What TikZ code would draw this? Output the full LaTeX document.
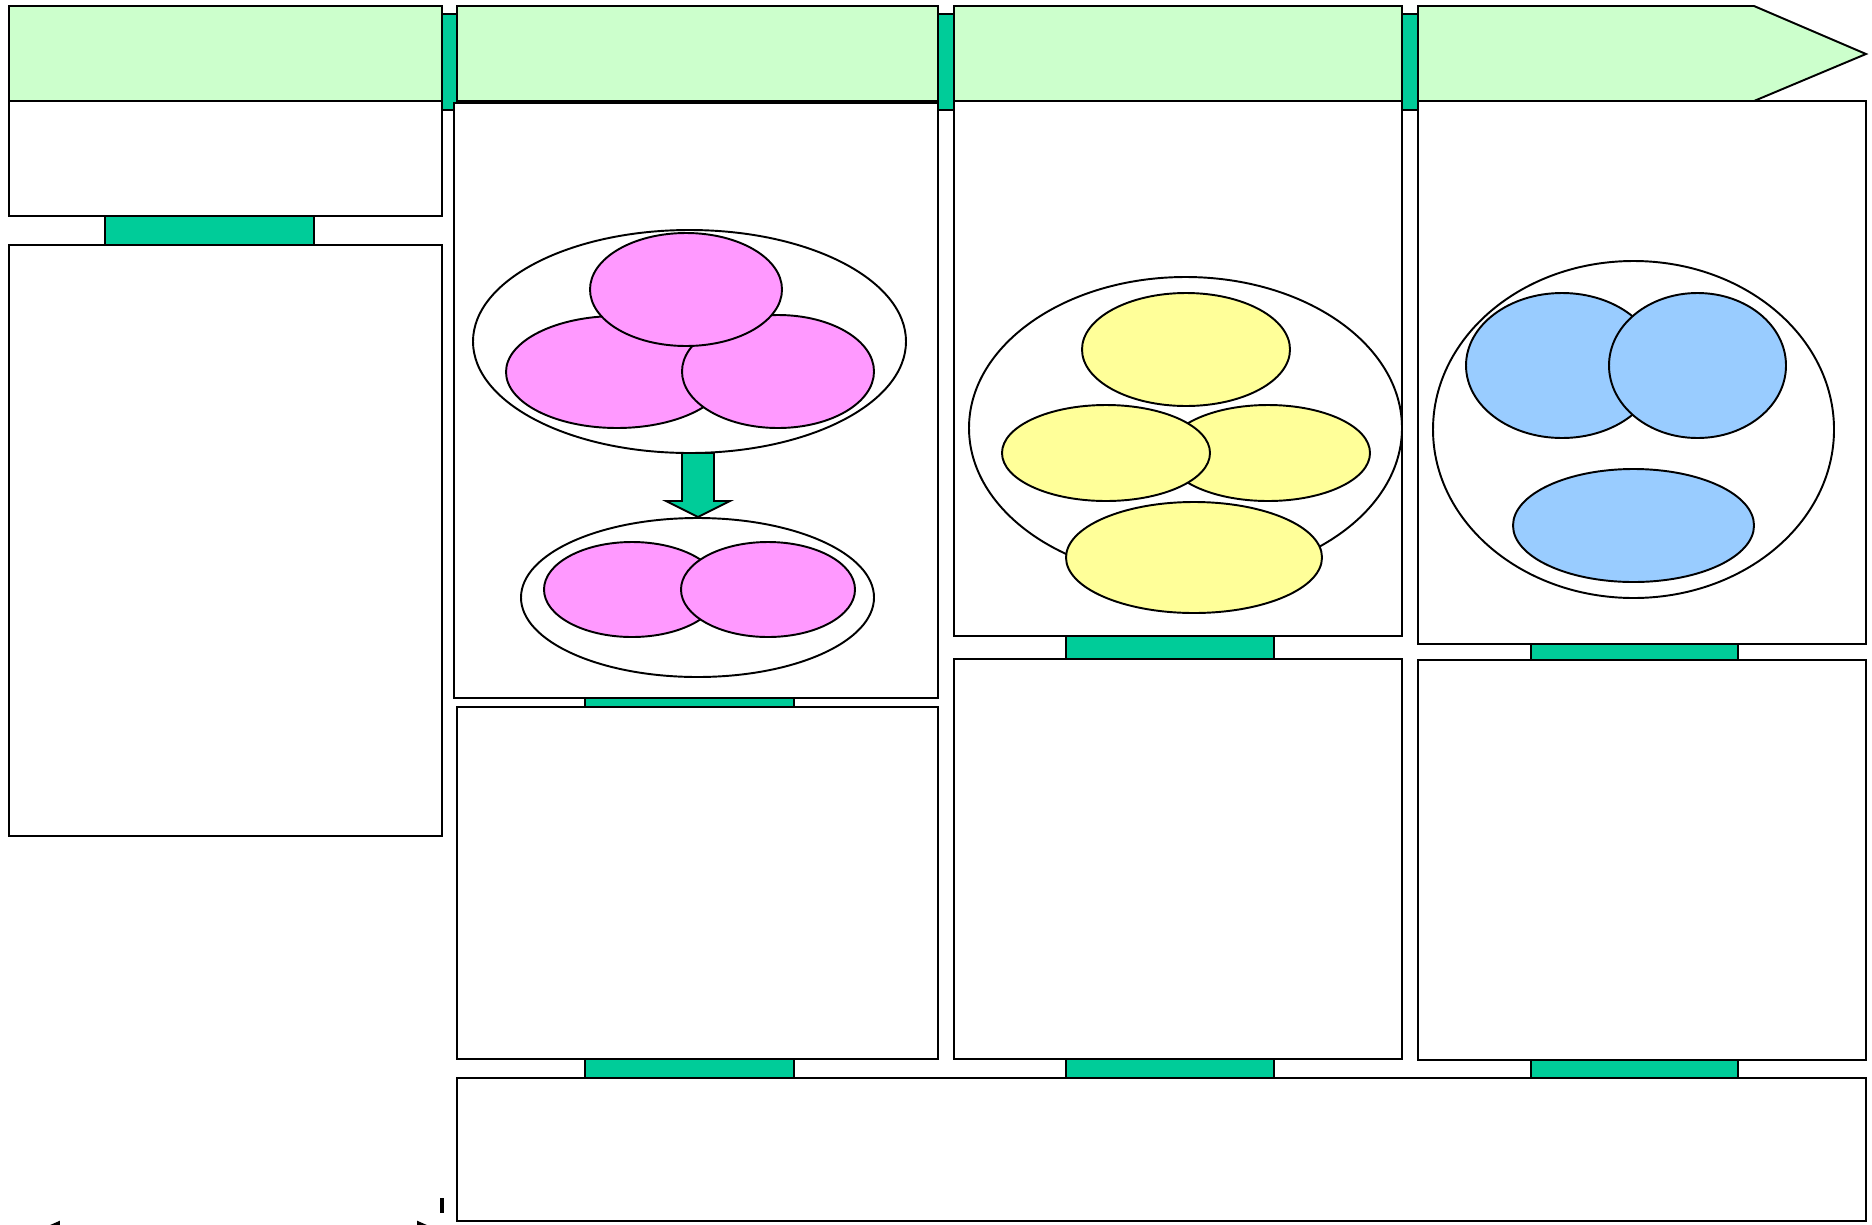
\documentclass[tikz,border=0pt]{standalone}
\usetikzlibrary{arrows.meta}
\definecolor{hdrgreen}{HTML}{CCFFCC}
\definecolor{tabteal}{HTML}{00CC99}
\definecolor{cellpink}{HTML}{FF99FF}
\definecolor{cellyellow}{HTML}{FFFF99}
\definecolor{cellblue}{HTML}{99CCFF}

\begin{document}
\begin{tikzpicture}
  [x=0.02cm,y=-0.02cm,line width=1.1pt,
   hdr/.style={draw,fill=hdrgreen},
   tab/.style={draw,fill=tabteal},
   panel/.style={draw,fill=white},
   pink/.style={draw,fill=cellpink},
   yell/.style={draw,fill=cellyellow},
   blue/.style={draw,fill=cellblue}]
  \useasboundingbox (0,0) rectangle (1872,1224);
  \clip (0,0) rectangle (1872,1224);

  % header bar
  \foreach \xa/\xb in {442/457,938/954,1402/1418}
    \draw[tab] (\xa,14) rectangle (\xb,110);
  \foreach \xa/\xb in {9/442,457/938,954/1402}
    \draw[hdr] (\xa,6) rectangle (\xb,101);
  \draw[hdr] (1418,6) -- (1754,6) -- (1866,54) -- (1754,101) -- (1418,101) -- cycle;

  % panels
  \foreach \xa/\ya/\xb/\yb in {9/101/442/216,9/245/442/836,454/103/938/698,457/707/938/1059,
      954/101/1402/636,954/659/1402/1059,1418/101/1866/644,1418/660/1866/1060,457/1078/1866/1221}
    \draw[panel] (\xa,\ya) rectangle (\xb,\yb);

  % tabs between panels
  \foreach \xa/\ya/\xb/\yb in {105/216/314/245,585/698/794/707,585/1059/794/1078,
      1066/636/1274/659,1066/1059/1274/1078,1531/644/1738/660,1531/1060/1738/1078}
    \draw[tab] (\xa,\ya) rectangle (\xb,\yb);

  % second column
  \draw[tab] (682,453) -- (714,453) -- (714,501) -- (730,501) -- (698,517)
    -- (666,501) -- (682,501) -- cycle;
  \draw (689.5,341.5) ellipse [x radius=216.5,y radius=111.5];
  \draw[pink] (617,372) ellipse [x radius=111,y radius=56];
  \draw[pink] (778,371.5) ellipse [x radius=96,y radius=56.5];
  \draw[pink] (686,289.5) ellipse [x radius=96,y radius=56.5];
  \draw (697.5,597.5) ellipse [x radius=176.5,y radius=79.5];
  \draw[pink] (632,589.5) ellipse [x radius=88,y radius=47.5];
  \draw[pink] (768,589.5) ellipse [x radius=87,y radius=47.5];

  % third column
  \draw (1185.5,428) ellipse [x radius=216.5,y radius=151];
  \draw[yell] (1186,349.5) ellipse [x radius=104,y radius=56.5];
  \draw[yell] (1268,453) ellipse [x radius=102,y radius=48];
  \draw[yell] (1106,453) ellipse [x radius=104,y radius=48];
  \draw[yell] (1194,557.5) ellipse [x radius=128,y radius=55.5];

  % fourth column
  \draw (1633.5,429.5) ellipse [x radius=200.5,y radius=168.5];
  \draw[blue] (1562,365.5) ellipse [x radius=96,y radius=72.5];
  \draw[blue] (1697.5,365.5) ellipse [x radius=88.5,y radius=72.5];
  \draw[blue] (1633.5,525.5) ellipse [x radius=120.5,y radius=56.5];

  % cut-off marks at the lower left
  \draw[line width=2.3pt] (442,1198) -- (442,1213);
  \draw[line width=1.5pt,{Triangle[length=0.56cm,width=0.48cm]}-{Triangle[length=0.56cm,width=0.48cm]}]
    (32,1233) -- (445,1233);
\end{tikzpicture}
\end{document}
